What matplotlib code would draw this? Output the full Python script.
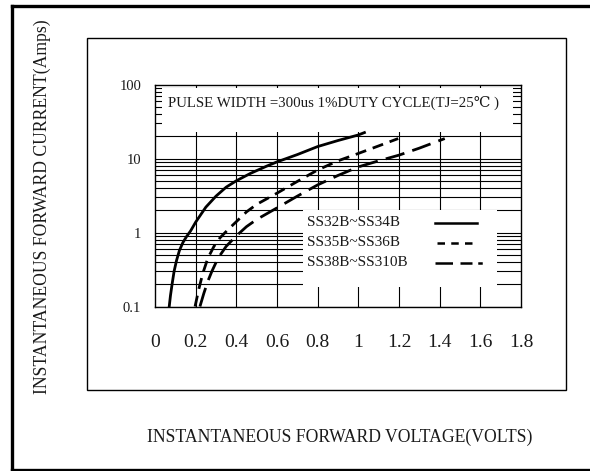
import matplotlib.pyplot as plt
from matplotlib.lines import Line2D
from matplotlib.patches import Rectangle

plt.rcParams["font.family"] = ["Liberation Serif", "DejaVu Serif"]

# forward voltage (V) vs forward current (A)
v_34 = [0.070, 0.076, 0.084, 0.094, 0.106, 0.120, 0.137, 0.155, 0.175, 0.20, 0.25, 0.30, 0.35,
        0.40, 0.47, 0.55, 0.60, 0.70, 0.80, 0.90, 1.00, 1.03]
i_34 = [0.1, 0.14, 0.2, 0.3, 0.42, 0.57, 0.73, 0.88, 1.05, 1.38, 2.2, 3.1, 4.1,
        5.0, 6.3, 7.9, 9.0, 11.3, 14.5, 17.5, 20.8, 22.4]

v_36 = [0.197, 0.215, 0.235, 0.26, 0.29, 0.32, 0.36, 0.40, 0.45, 0.50, 0.60, 0.70,
        0.80, 0.90, 1.00, 1.10, 1.196]
i_36 = [0.1, 0.17, 0.28, 0.45, 0.65, 0.85, 1.1, 1.4, 1.9, 2.4, 3.4, 4.9,
        7.0, 9.3, 11.7, 14.8, 18.6]

v_310 = [0.221, 0.24, 0.26, 0.28, 0.31, 0.35, 0.40, 0.45, 0.50, 0.60, 0.70, 0.80,
         0.90, 1.00, 1.10, 1.20, 1.30, 1.425]
i_310 = [0.1, 0.15, 0.22, 0.3, 0.45, 0.65, 0.9, 1.2, 1.5, 2.15, 3.1, 4.4,
         5.9, 7.7, 9.3, 11.1, 13.8, 18.6]

labels = ["SS32B~SS34B", "SS35B~SS36B", "SS38B~SS310B"]
x_ticks = [0, 0.2, 0.4, 0.6, 0.8, 1, 1.2, 1.4, 1.6, 1.8]
x_tick_labels = ["0", "0.2", "0.4", "0.6", "0.8", "1", "1.2", "1.4", "1.6", "1.8"]
y_ticks = [0.1, 1, 10, 100]
y_tick_labels = ["0.1", "1", "10", "100"]

W, H = 590, 471
ink = "#1a1a1a"
fig = plt.figure(figsize=(W / 100, H / 100), dpi=100)

def fx(px):
    return px / W

def fy(py):
    return 1 - py / H

# outer border (left, top, bottom)
for xs, ys in [([11.5, 11.5], [5.5, 469.5]), ([11.5, 590], [5.5, 5.5]), ([11.5, 590], [469.5, 469.5])]:
    fig.add_artist(Line2D([fx(x) for x in xs], [fy(y) for y in ys], color="black", lw=2.4))

# inner frame
fig.add_artist(Rectangle((fx(87), fy(390)), fx(566) - fx(87), fy(38) - fy(390),
                         fill=False, edgecolor="black", lw=1.0))

ax = fig.add_axes([fx(155), fy(306.5), fx(521) - fx(155), fy(84.5) - fy(306.5)])
ax.set_yscale("log")
ax.set_xlim(0, 1.8)
ax.set_ylim(0.1, 100)

# grid
for v in x_ticks[1:-1]:
    ax.axvline(v, color="black", lw=0.8, zorder=1)
for dec in [0.1, 1, 10]:
    for m in range(1, 10):
        ax.axhline(dec * m, color="black", lw=0.8, zorder=1)

# white boxes masking the grid
ax.add_patch(Rectangle((fx(162), fy(132)), fx(513) - fx(162), fy(88) - fy(132),
                       transform=fig.transFigure, facecolor="white", edgecolor="none", zorder=2))
ax.add_patch(Rectangle((fx(303), fy(287)), fx(497) - fx(303), fy(210) - fy(287),
                       transform=fig.transFigure, facecolor="white", edgecolor="none", zorder=2))

ax.plot(v_34, i_34, color="black", lw=2.0, zorder=3)
ax.plot(v_36, i_36, color="black", lw=2.0, dashes=(4, 2.5), zorder=3)
ax.plot(v_310, i_310, color="black", lw=2.0, dashes=(7, 3), zorder=3)

for s in ax.spines.values():
    s.set_linewidth(1.0)

ax.set_xticks(x_ticks)
ax.set_xticklabels(x_tick_labels, fontsize=14, color=ink)
ax.set_yticks(y_ticks)
ax.set_yticklabels(y_tick_labels, fontsize=10.5, color=ink)
ax.minorticks_off()
ax.tick_params(axis="x", length=0, pad=20)
ax.tick_params(axis="y", length=0, pad=10)

fig.text(fx(168), fy(103), "PULSE WIDTH =300us 1%DUTY CYCLE(TJ=25\u2103 )",
         fontsize=10.7, ha="left", va="center", zorder=5, color=ink)

# legend
leg_y = [223, 243, 263]
for lab, y in zip(labels, leg_y):
    fig.text(fx(307), fy(y), lab, fontsize=11, ha="left", va="center", color=ink)
fig.add_artist(Line2D([fx(435), fx(477)], [fy(223)] * 2, color="black", lw=1.8))
fig.add_artist(Line2D([fx(437), fx(473)], [fy(243)] * 2, color="black", lw=1.8, dashes=(3, 2.5)))
fig.add_artist(Line2D([fx(435), fx(472)], [fy(263)] * 2, color="black", lw=1.8, dashes=(7, 3)))
fig.add_artist(Line2D([fx(479), fx(481)], [fy(263)] * 2, color="black", lw=1.8))

fig.text(fx(340), fy(437), "INSTANTANEOUS FORWARD VOLTAGE(VOLTS)", fontsize=12.7,
         ha="center", va="center", color=ink)
fig.text(fx(42), fy(207), "INSTANTANEOUS FORWARD CURRENT(Amps)", fontsize=12.7,
         ha="center", va="center", rotation=90, color=ink)

fig.savefig("out.png", dpi=100)
